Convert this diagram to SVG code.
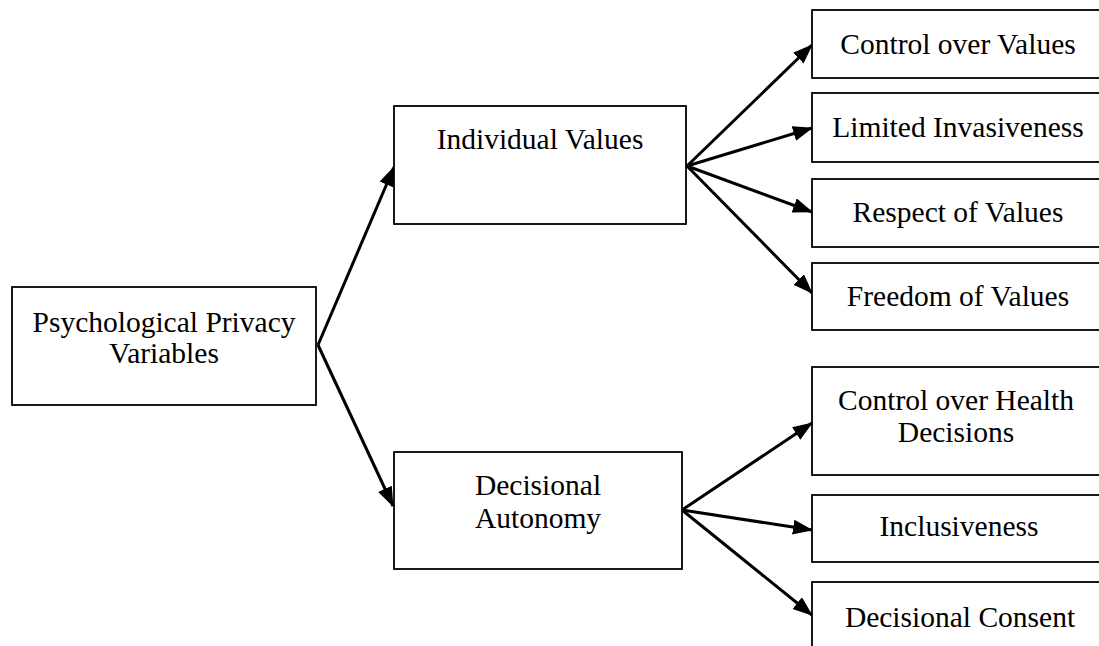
<svg xmlns="http://www.w3.org/2000/svg" width="1099" height="646" viewBox="0 0 1099 646">
<style>
.box{fill:#fff;stroke:#000;stroke-width:1.8}
.t{font-family:"Liberation Serif","Times New Roman",serif;font-size:29.5px;fill:#000;text-anchor:middle}
.c{stroke:#000;stroke-width:3;fill:none;marker-end:url(#ah)}
</style>
<defs>
<marker id="ah" markerUnits="userSpaceOnUse" markerWidth="22" markerHeight="16" refX="19" refY="7.5" orient="auto">
<path d="M0,0 L20,7.5 L0,15 z" fill="#000"/>
</marker>
</defs>
<rect width="1099" height="646" fill="#fff"/>
<g id="connectors">
<line class="c" x1="318" y1="345" x2="394" y2="167"/>
<line class="c" x1="318" y1="345" x2="393" y2="506"/>
<line class="c" x1="687" y1="166" x2="812" y2="45"/>
<line class="c" x1="687" y1="166" x2="812" y2="128"/>
<line class="c" x1="687" y1="166" x2="812" y2="212"/>
<line class="c" x1="687" y1="166" x2="812" y2="293"/>
<line class="c" x1="682" y1="510" x2="812" y2="423"/>
<line class="c" x1="682" y1="510" x2="812" y2="530"/>
<line class="c" x1="682" y1="510" x2="812" y2="615"/>
</g>
<g id="psych">
<rect class="box" x="12" y="287" width="304" height="118"/>
<text class="t" x="164" y="332">Psychological  Privacy</text>
<text class="t" x="164" y="363">Variables</text>
</g>
<g id="individual">
<rect class="box" x="394" y="106" width="292" height="118"/>
<text class="t" x="540" y="149">Individual  Values</text>
</g>
<g id="decisional">
<rect class="box" x="394" y="452" width="288" height="117"/>
<text class="t" x="538" y="495">Decisional</text>
<text class="t" x="538" y="528">Autonomy</text>
</g>
<g id="control-values">
<rect class="box" x="812" y="10" width="292" height="68"/>
<text class="t" x="958" y="54">Control over Values</text>
</g>
<g id="limited-invasiveness">
<rect class="box" x="812" y="93" width="292" height="69"/>
<text class="t" x="958" y="137">Limited Invasiveness</text>
</g>
<g id="respect-values">
<rect class="box" x="812" y="179" width="292" height="68"/>
<text class="t" x="958" y="222">Respect of Values</text>
</g>
<g id="freedom-values">
<rect class="box" x="812" y="263" width="292" height="67"/>
<text class="t" x="958" y="306">Freedom of Values</text>
</g>
<g id="control-health">
<rect class="box" x="812" y="367" width="292" height="108"/>
<text class="t" x="956" y="410">Control over Health</text>
<text class="t" x="956" y="442">Decisions</text>
</g>
<g id="inclusiveness">
<rect class="box" x="812" y="495" width="292" height="67"/>
<text class="t" x="959" y="536">Inclusiveness</text>
</g>
<g id="decisional-consent">
<rect class="box" x="812" y="582" width="292" height="70"/>
<text class="t" x="960" y="627">Decisional Consent</text>
</g>
</svg>
